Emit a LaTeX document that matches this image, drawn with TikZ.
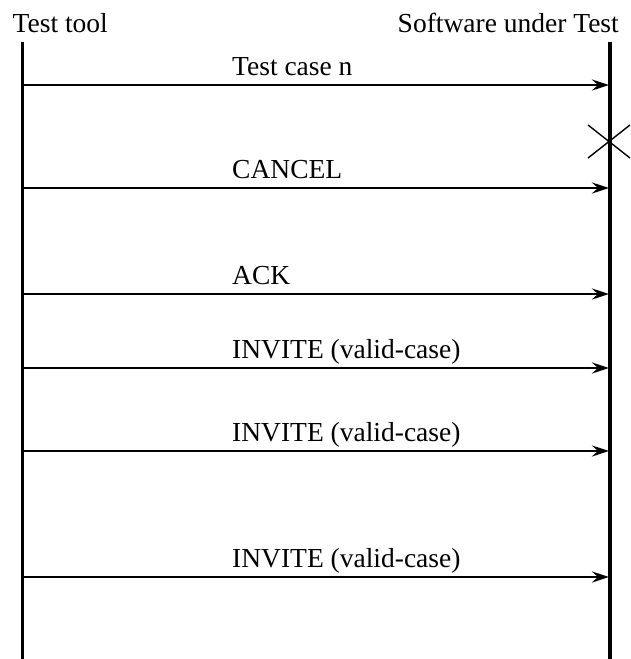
\documentclass[tikz,border=0pt]{standalone}
\usepackage{fontspec}
\setmainfont{Liberation Serif}
\usetikzlibrary{arrows.meta}

\begin{document}
\begin{tikzpicture}[x=1pt,y=-1pt,
  lifeline/.style={line width=3.2pt},
  msg/.style={line width=2.8pt,-{Stealth[length=17pt,width=11pt,inset=6pt]}},
  lbl/.style={anchor=base west,inner sep=0pt,font=\fontsize{27.5}{33}\selectfont}]
  \useasboundingbox (0,0) rectangle (631,659);

  % Draw lifelines
  \node[lbl] (tool) at (12.5,32) {Test tool};
  \node[lbl,anchor=base east] (sut) at (619,32) {Software under Test};
  \coordinate (tooltop) at (22.5,42);
  \coordinate (toolend) at (22.5,659);
  \coordinate (suttop) at (610,42);
  \coordinate (sutend) at (610,659);
  \draw[lifeline] (tooltop) -- (toolend);
  \draw[lifeline] (suttop) -- (sutend);

  % Draw messages
  \foreach \y/\txt/\n in {85/Test case n/1,188/CANCEL/2,294/ACK/3,
      368/INVITE (valid-case)/4,451/INVITE (valid-case)/5,577/INVITE (valid-case)/6} {
    \coordinate (from\n) at (22.5,\y);
    \coordinate (to\n) at (609,\y);
    \draw[msg] (from\n) -- (to\n);
    \node[lbl] (msg\n) at (232,\y-10) {\txt};
  }

  % Crash mark
  \coordinate (crash) at (609,141.5);
  \draw[line width=1.4pt] (crash) ++(-21,-16.5) -- ++(42,33)
    (crash) ++(-21,16.5) -- ++(42,-33);
\end{tikzpicture}
\end{document}
